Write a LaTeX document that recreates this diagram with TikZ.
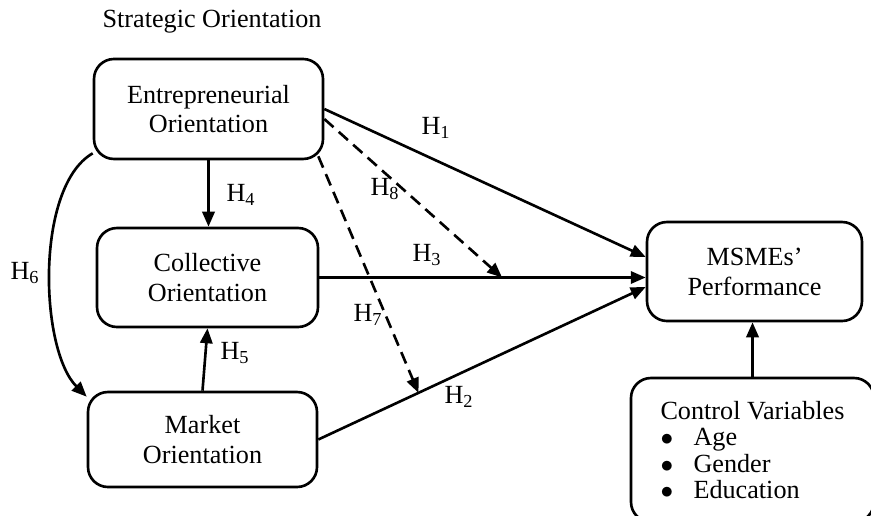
\documentclass[tikz,border=0pt]{standalone}
\usepackage{fontspec}
\setmainfont{Liberation Serif}
\usepackage{tikz}
\usetikzlibrary{arrows.meta}
\usetikzlibrary{positioning}
\tikzset{box/.style = {draw, rounded corners=0.4cm, line width=1.5pt,
                       align=center, font=\fontsize{14.9}{17}\selectfont},
         arr/.style = {line width=1.5pt, -{Triangle[length=8.5pt,width=7pt]}},
         modarr/.style = {arr, dash pattern=on 7pt off 4pt},
         hlabel/.style = {font=\fontsize{14.9}{17}\selectfont, inner sep=1pt}}

\begin{document}
\begin{tikzpicture}
      \useasboundingbox (0, 0) rectangle (17.42, 10.3);

      \node [hlabel] (title) at (4.24, 9.86) {Strategic Orientation};

      \node [box, minimum width=4.58cm, minimum height=2.0cm] (eo) at (4.17, 8.12) {Entrepreneurial\\Orientation};
      \node [box, minimum width=4.42cm, minimum height=1.98cm] (co) at (4.15, 4.75) {Collective\\Orientation};
      \node [box, minimum width=4.58cm, minimum height=1.9cm] (mo) at (4.05, 1.51) {Market\\Orientation};
      \node [box, minimum width=4.3cm, minimum height=1.98cm] (ms) at (15.09, 4.87) {MSMEs’\\Performance};
      \node [box, minimum width=4.86cm, minimum height=2.88cm, align=left,
             font=\fontsize{14.9}{14.9}\selectfont] (cv) at (15.05, 1.3)
            {Control Variables\\
             \makebox[0.66cm][l]{$\bullet$}Age\\
             \makebox[0.66cm][l]{$\bullet$}Gender\\
             \makebox[0.66cm][l]{$\bullet$}Education};

      % direct paths
      \draw [arr] (eo.east) -- ([yshift=0.29cm]ms.west);
      \draw [arr] (co.east) -- coordinate [pos=0.56] (c3) (co.east -| ms.west);
      \draw [arr] (mo.east) -- coordinate [pos=0.306] (c2) ([yshift=-0.31cm]ms.west);
      \draw [arr] (eo.south) -- (eo.south |- co.north);
      \draw [arr] (mo.north) -- (co.south);
      \draw [arr] ([yshift=0.14cm]eo.south west) to [out=210, in=135, looseness=0.7] ([yshift=-0.12cm]mo.north west);
      \draw [arr] (cv.north) -- (cv.north |- ms.south);

      % moderating paths
      \draw [modarr] ([yshift=-0.2cm]eo.east) -- (c3);
      \draw [modarr] ([xshift=-0.12cm, yshift=0.08cm]eo.south east) -- (c2);

      \node [hlabel] (h1) at (8.72, 7.74) {H\textsubscript{1}};
      \node [hlabel] (h2) at (9.18, 2.36) {H\textsubscript{2}};
      \node [hlabel] (h3) at (8.54, 5.2) {H\textsubscript{3}};
      \node [hlabel] (h4) at (4.82, 6.4) {H\textsubscript{4}};
      \node [hlabel] (h5) at (4.70, 3.24) {H\textsubscript{5}};
      \node [hlabel] (h6) at (0.5, 4.84) {H\textsubscript{6}};
      \node [hlabel] (h7) at (7.36, 4.0) {H\textsubscript{7}};
      \node [hlabel] (h8) at (7.70, 6.52) {H\textsubscript{8}};
\end{tikzpicture}
\end{document}
